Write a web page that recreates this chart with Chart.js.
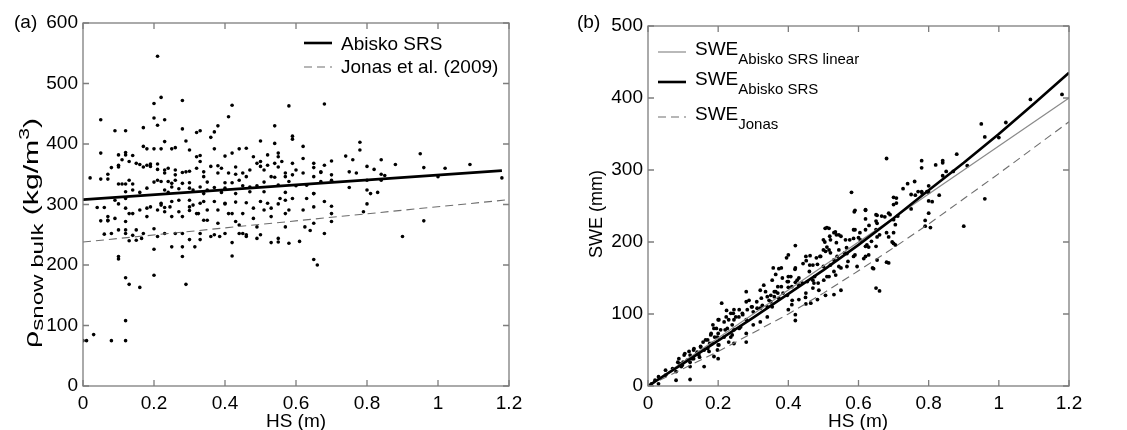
<!DOCTYPE html>
<html>
<head>
<meta charset="utf-8">
<script src="https://cdn.jsdelivr.net/npm/chart.js"></script>
<style>
  html, body { margin: 0; padding: 0; background: #fff; }
  #wrap { position: relative; width: 1127px; height: 430px; }
  .box { position: absolute; top: 0; height: 430px; }
</style>
</head>
<body>
<div id="wrap">
  <div class="box" style="left:0;width:560px"><canvas id="chartA"></canvas></div>
  <div class="box" style="left:560px;width:567px"><canvas id="chartB"></canvas></div>
</div>
<script>
// tick labels
const xTicks = [0, 0.2, 0.4, 0.6, 0.8, 1, 1.2];
const yTicksA = [0, 100, 200, 300, 400, 500, 600];
const yTicksB = [0, 100, 200, 300, 400, 500];

// panel (a): snow depth HS (m) vs bulk density (kg/m3)
const hsA = [
  0.21,0.22,0.20,0.28,0.42,0.58,0.68,0.20,0.21,0.23,
  0.41,0.54,0.38,0.28,0.17,0.05,0.09,0.12,0.33,0.32,
  0.37,0.36,0.59,0.59,0.23,0.29,0.50,0.54,0.78,0.62,
  0.05,0.12,0.10,0.14,0.17,0.18,0.20,0.22,0.25,0.30,
  0.26,0.32,0.33,0.37,0.40,0.42,0.44,0.46,0.48,0.50,
  0.52,0.55,0.55,0.59,0.62,0.65,0.68,0.70,0.74,0.76,
  0.78,0.80,0.84,0.88,0.95,0.96,1.02,1.09,0.07,0.02,
  0.05,0.08,0.10,0.11,0.13,0.15,0.16,0.17,0.18,0.19,
  0.21,0.23,0.24,0.26,0.28,0.30,0.32,0.34,0.36,0.38,
  0.39,0.41,0.43,0.45,0.47,0.49,0.50,0.51,0.52,0.54,
  0.57,0.59,0.62,0.65,0.67,0.70,0.75,0.77,0.80,0.84,
  0.82,0.10,0.11,0.12,0.13,0.14,0.16,0.18,0.20,0.21,
  0.22,0.23,0.24,0.25,0.26,0.27,0.28,0.30,0.31,0.33,
  0.34,0.35,0.37,0.39,0.40,0.42,0.43,0.45,0.47,0.49,
  0.51,0.53,0.55,0.57,0.58,0.60,0.63,0.65,0.67,0.70,
  0.75,0.80,0.81,0.83,0.84,0.85,1.00,1.18,0.04,0.09,
  0.10,0.12,0.12,0.13,0.07,0.05,0.07,0.12,0.18,0.19,
  0.21,0.22,0.23,0.25,0.25,0.27,0.28,0.30,0.30,0.31,
  0.32,0.34,0.34,0.35,0.37,0.38,0.40,0.41,0.43,0.43,
  0.45,0.46,0.48,0.48,0.50,0.51,0.53,0.55,0.57,0.57,
  0.59,0.62,0.63,0.65,0.68,0.70,0.70,0.79,0.80,0.96,
  0.65,0.68,0.70,0.06,0.08,0.10,0.12,0.14,0.15,0.13,
  0.15,0.17,0.20,0.23,0.25,0.28,0.28,0.30,0.33,0.36,
  0.40,0.42,0.44,0.46,0.49,0.53,0.55,0.57,0.64,0.90,
  0.20,0.10,0.28,0.42,0.65,0.66,0.20,0.12,0.13,0.16,
  0.29,0.12,0.03,0.01,0.00,0.08,0.12,0.10,0.07,0.10,
  0.12,0.14,0.12,0.19,0.21,0.23,0.24,0.25,0.26,0.29,
  0.30,0.33,0.34,0.35,0.38,0.40,0.43,0.44,0.46,0.47,
  0.51,0.54,0.55,0.56,0.57,0.60,0.65,0.67,0.06,0.07,
  0.09,0.14,0.16,0.18,0.22,0.23,0.245,0.27,0.30,0.325,
  0.33,0.35,0.38,0.40,0.42,0.44,0.46,0.49,0.52,0.53,
  0.555,0.58,0.61,0.625,0.65,0.12,0.165,0.21,0.26,0.315,
  0.33,0.37,0.385,0.45,0.50,0.55,0.58
];
const rhoA = [
  545,477,467,472,464,463,466,443,431,440,
  445,430,430,425,427,440,422,422,422,419,
  420,411,413,408,404,405,405,401,403,396,
  385,386,382,381,396,392,392,392,392,390,
  394,379,381,392,380,385,392,393,379,371,
  382,385,379,368,376,368,365,372,380,374,
  390,363,374,366,384,361,360,366,350,344,
  342,361,365,374,371,368,366,362,365,363,
  358,352,360,357,353,355,360,354,363,364,
  360,352,350,352,357,368,363,357,365,345,
  352,349,352,361,353,349,354,352,340,350,
  358,334,334,334,340,324,320,327,337,340,
  338,324,320,329,340,326,335,336,324,329,
  318,337,328,320,336,336,318,331,321,331,
  337,346,332,320,338,331,332,318,338,340,
  328,324,318,320,340,348,346,344,295,307,
  301,310,294,285,280,273,274,272,280,296,
  291,299,295,305,280,288,280,307,290,299,
  285,305,274,291,305,269,301,285,304,272,
  285,303,294,277,305,291,294,301,307,285,
  310,291,310,296,305,297,285,288,301,273,
  269,252,272,251,252,258,252,249,258,240,
  241,252,260,252,230,230,252,242,252,247,
  252,237,252,247,244,237,238,263,257,247,
  226,214,214,215,209,200,183,179,168,163,
  168,108,85,75,75,75,75,210,342,362,
  382,334,321,367,367,357,338,335,349,354,
  327,371,346,324,352,327,362,340,346,329,
  321,368,362,371,346,357,346,354,295,273,
  277,285,291,294,302,288,296,307,296,285,
  302,274,291,302,285,266,250,263,302,280,
  310,291,239,263,318,258,244,247,252,230,
  242,250,247,252,250,244,236
];
// fitted density lines (a)
const abiskoHsA = [0, 1.18];
const abiskoRho = [308, 356];
const jonasHsA = [0, 1.2];
const jonasRho = [238, 308];

// panel (b): snow depth HS (m) vs SWE (mm)
const hsB = [
  1.09,1.18,1.02,0.95,0.96,1.00,0.91,0.96,0.90,0.88,
  0.84,0.84,0.82,0.85,0.87,0.84,0.83,0.78,0.78,0.68,
  0.74,0.76,0.75,0.77,0.78,0.75,0.80,0.80,0.81,0.80,
  0.79,0.79,0.70,0.70,0.70,0.69,0.70,0.70,0.68,0.68,
  0.65,0.65,0.63,0.62,0.62,0.65,0.65,0.64,0.65,0.66,
  0.58,0.59,0.59,0.60,0.62,0.62,0.59,0.57,0.56,0.55,
  0.55,0.53,0.51,0.53,0.55,0.50,0.50,0.49,0.48,0.52,
  0.53,0.53,0.51,0.50,0.47,0.45,0.46,0.47,0.45,0.45,
  0.42,0.40,0.42,0.40,0.38,0.42,0.40,0.38,0.37,0.42,
  0.42,0.41,0.40,0.43,0.36,0.35,0.33,0.32,0.34,0.31,
  0.34,0.32,0.30,0.28,0.28,0.27,0.28,0.30,0.32,0.34,
  0.28,0.28,0.26,0.24,0.23,0.21,0.20,0.22,0.24,0.23,
  0.20,0.19,0.20,0.20,0.18,0.17,0.17,0.15,0.14,0.13,
  0.12,0.12,0.13,0.12,0.16,0.12,0.08,0.10,0.09,0.07,
  0.05,0.05,0.03,0.02,0.01,0.03,0.08,0.095,0.36,0.37,
  0.385,0.40,0.41,0.43,0.44,0.47,0.475,0.485,0.395,0.357,
  0.323,0.295,0.26,0.243,0.223,0.195,0.185,0.176,0.157,0.147,
  0.105,0.085,0.518,0.537,0.566,0.575,0.604,0.637,0.66,0.666,
  0.727,0.80,
  0.224,0.236,0.202,0.217,0.245,0.259,0.188,0.207,0.226,0.245,
  0.264,0.179,0.198,0.217,0.236,0.164,0.183,0.202,0.245,0.15,
  0.131,0.117,0.145,0.103,0.088,0.112,0.098,0.126,0.16,0.174,
  0.198,0.188,
  0.516,0.537,0.462,0.504,0.506,0.492,0.516,0.451,0.442,0.461,
  0.483,0.419,0.407,0.373,0.364,0.354,0.383,0.397,0.425,0.43,
  0.454,0.473,0.487,0.501,0.516,0.535,0.288,0.335,0.35,0.364,
  0.373,0.397,0.411,0.345,0.326,0.311,0.297,0.283,0.245,0.25,
  0.269,0.354,0.449,0.464,0.483,0.506,
  0.588,0.62,0.62,0.653,0.653,0.675,0.686,0.708,0.708,0.712,
  0.705,0.762,0.781,0.795,0.505,0.52,0.51,0.534,0.544,0.563,
  0.586,0.586,0.605,0.624,0.629,0.653,0.686,0.696,0.705,0.544,
  0.567,0.539,0.586,0.615,0.629,0.653,0.52,0.544,0.567,0.596,
  0.643,0.686,0.805
];
const sweB = [
  398,405,366,364,346,345,306,260,222,322,
  313,310,307,298,298,292,265,313,303,316,
  281,284,266,270,270,246,269,257,256,240,
  230,222,262,252,231,238,213,198,213,172,
  238,229,223,245,217,217,194,164,136,132,
  269,244,217,206,194,180,182,173,185,164,
  133,127,220,213,208,203,189,180,178,185,
  175,159,152,166,168,180,159,147,129,114,
  195,182,164,152,164,144,137,138,129,91,
  99,113,106,120,124,117,140,133,124,117,
  110,108,103,117,131,99,92,85,89,96,
  73,61,80,85,92,115,92,78,71,61,
  73,68,57,38,73,64,52,54,47,50,
  43,33,38,27,27,9,8,33,31,24,
  22,15,13,8,3,3,20,27,131,138,
  129,145,138,150,143,136,152,143,178,164,
  122,110,106,101,96,80,85,59,61,40,
  45,33,208,199,192,203,213,201,210,236,
  274,278,
  105,101,92,89,92,96,80,78,80,78,
  82,71,68,68,68,64,59,57,59,55,
  52,48,43,43,38,36,29,38,50,48,
  50,41,
  219,210,181,200,187,180,189,174,170,168,
  169,162,152,163,155,147,150,145,147,140,
  145,143,133,147,152,154,119,131,126,131,
  122,126,119,119,112,108,110,106,106,96,
  101,110,123,115,120,126,
  242,244,232,237,226,235,240,261,254,236,
  224,265,268,270,219,203,193,214,210,203,
  217,205,203,196,193,207,207,200,196,189,
  184,180,180,177,182,175,168,166,166,166,
  163,171,220
];
// SWE curves (b)
const curveHs = [0, 0.1, 0.2, 0.3, 0.4, 0.5, 0.6, 0.7, 0.8, 0.9, 1.0, 1.1, 1.2];
const abiskoSwe = [0, 31, 63, 95, 128, 161, 196, 233, 272, 310, 350, 392, 435];
const jonasSwe = [0, 24, 48, 74, 100, 129, 160, 192, 225, 260, 295, 331, 367];
const linearHs = [0, 1.2];
const linearSwe = [0, 400];

const FAM = "'Liberation Sans', Arial, Helvetica, sans-serif";
Chart.defaults.font.family = FAM;
Chart.defaults.font.size = 19;
Chart.defaults.color = '#000';

const pts = (xs, ys) => xs.map((v, i) => ({ x: v, y: ys[i] }));

function runs(ctx, parts, x, y) {
  parts.forEach(([t, size, dy]) => {
    ctx.font = size + 'px ' + FAM;
    ctx.fillText(t, x, y + dy);
    x += ctx.measureText(t).width;
  });
  return x;
}
function runsWidth(ctx, parts) {
  let w = 0;
  parts.forEach(([t, size]) => { ctx.font = size + 'px ' + FAM; w += ctx.measureText(t).width; });
  return w;
}

function drawFrame(chart, yt) {
  const { ctx, chartArea: a, scales: { x, y } } = chart;
  ctx.save();
  ctx.strokeStyle = '#7d7d7d';
  ctx.lineWidth = 1.3;
  ctx.strokeRect(a.left, a.top, a.right - a.left, a.bottom - a.top);
  ctx.beginPath();
  xTicks.forEach(v => {
    const px = x.getPixelForValue(v);
    ctx.moveTo(px, a.bottom); ctx.lineTo(px, a.bottom - 6);
    ctx.moveTo(px, a.top); ctx.lineTo(px, a.top + 6);
  });
  yt.forEach(v => {
    const py = y.getPixelForValue(v);
    ctx.moveTo(a.left, py); ctx.lineTo(a.left + 6, py);
    ctx.moveTo(a.right, py); ctx.lineTo(a.right - 6, py);
  });
  ctx.stroke();
  ctx.restore();
}

function legendLine(ctx, x1, x2, y, color, width, dash) {
  ctx.save();
  ctx.strokeStyle = color;
  ctx.lineWidth = width;
  ctx.setLineDash(dash || []);
  ctx.beginPath();
  ctx.moveTo(x1, y); ctx.lineTo(x2, y);
  ctx.stroke();
  ctx.restore();
}

function scales(yt, ymax, yWidth) {
  return {
    x: {
      type: 'linear', min: 0, max: 1.2,
      afterBuildTicks: s => { s.ticks = xTicks.map(v => ({ value: v })); },
      afterFit: s => { s.height = 44; },
      grid: { display: false, drawTicks: false }, border: { display: false },
      ticks: { padding: 6, maxRotation: 0, autoSkip: false, callback: v => String(v) }
    },
    y: {
      type: 'linear', min: 0, max: ymax,
      afterBuildTicks: s => { s.ticks = yt.map(v => ({ value: v })); },
      afterFit: s => { s.width = yWidth; },
      grid: { display: false, drawTicks: false }, border: { display: false },
      ticks: { padding: 5, autoSkip: false, callback: v => String(v) }
    }
  };
}

const common = {
  responsive: true,
  maintainAspectRatio: false,
  animation: false,
  events: [],
  plugins: { legend: { display: false }, tooltip: { enabled: false } }
};

new Chart(document.getElementById('chartA'), {
  type: 'scatter',
  data: {
    datasets: [
      { data: pts(abiskoHsA, abiskoRho), showLine: true, borderColor: '#000', borderWidth: 2.6, pointRadius: 0, order: 0 },
      { data: pts(jonasHsA, jonasRho), showLine: true, borderColor: '#6e6e6e', borderWidth: 1.1, borderDash: [8, 5], pointRadius: 0, order: 1 },
      { data: pts(hsA, rhoA), backgroundColor: '#000', borderWidth: 0, pointRadius: 1.8, order: 2 }
    ]
  },
  options: Object.assign({}, common, {
    layout: { padding: { left: 0, top: 23, right: 51, bottom: 0 } },
    scales: scales(yTicksA, 600, 83)
  }),
  plugins: [{
    id: 'decorA',
    afterDraw(chart) {
      const ctx = chart.ctx;
      drawFrame(chart, yTicksA);
      ctx.save();
      ctx.fillStyle = '#000';
      ctx.textBaseline = 'alphabetic';
      ctx.font = '19px ' + FAM;
      ctx.fillText('(a)', 14, 28);
      // legend
      legendLine(ctx, 304, 332, 43, '#000', 2.6);
      ctx.fillText('Abisko SRS', 341, 50);
      legendLine(ctx, 304, 332, 67, '#6e6e6e', 1.1, [8, 5]);
      ctx.fillText('Jonas et al. (2009)', 341, 73);
      // x title
      ctx.textAlign = 'center';
      ctx.fillText('HS (m)', 296, 427);
      // y title with subscript / superscript, spanning y 348 -> 118 like the original
      ctx.textAlign = 'left';
      const parts = [['ρ', 20, 0], ['snow bulk', 16, 5], [' (kg/m', 20, 0], ['3', 14, -9], [')', 20, 0]];
      const w = runsWidth(ctx, parts);
      ctx.translate(38, 348);
      ctx.rotate(-Math.PI / 2);
      ctx.scale(230 / w, 1);
      runs(ctx, parts, 0, 0);
      ctx.restore();
    }
  }]
});

new Chart(document.getElementById('chartB'), {
  type: 'scatter',
  data: {
    datasets: [
      { data: pts(curveHs, abiskoSwe), showLine: true, borderColor: '#000', borderWidth: 2.6, pointRadius: 0, order: 0 },
      { data: pts(linearHs, linearSwe), showLine: true, borderColor: '#8a8a8a', borderWidth: 1.2, pointRadius: 0, order: 1 },
      { data: pts(curveHs, jonasSwe), showLine: true, borderColor: '#6e6e6e', borderWidth: 1.1, borderDash: [8, 5], pointRadius: 0, order: 2 },
      { data: pts(hsB, sweB), backgroundColor: '#000', borderWidth: 0, pointRadius: 1.9, order: 3 }
    ]
  },
  options: Object.assign({}, common, {
    layout: { padding: { left: 0, top: 26, right: 58, bottom: 0 } },
    scales: scales(yTicksB, 500, 88)
  }),
  plugins: [{
    id: 'decorB',
    afterDraw(chart) {
      const ctx = chart.ctx;
      drawFrame(chart, yTicksB);
      ctx.save();
      ctx.fillStyle = '#000';
      ctx.textBaseline = 'alphabetic';
      ctx.font = '19px ' + FAM;
      ctx.fillText('(b)', 17, 28);
      // legend
      legendLine(ctx, 98, 126, 52, '#8a8a8a', 1.2);
      runs(ctx, [['SWE', 19, 0], ['Abisko SRS linear', 15, 9]], 135, 55);
      legendLine(ctx, 98, 126, 82, '#000', 2.6);
      runs(ctx, [['SWE', 19, 0], ['Abisko SRS', 15, 9]], 135, 85);
      legendLine(ctx, 98, 126, 117, '#6e6e6e', 1.1, [8, 5]);
      runs(ctx, [['SWE', 19, 0], ['Jonas', 15, 9]], 135, 120);
      // x title
      ctx.font = '19px ' + FAM;
      ctx.textAlign = 'center';
      ctx.fillText('HS (m)', 298, 427);
      // y title
      ctx.font = '18px ' + FAM;
      ctx.translate(42, 214);
      ctx.rotate(-Math.PI / 2);
      ctx.fillText('SWE (mm)', 0, 0);
      ctx.restore();
    }
  }]
});
</script>
</body>
</html>
